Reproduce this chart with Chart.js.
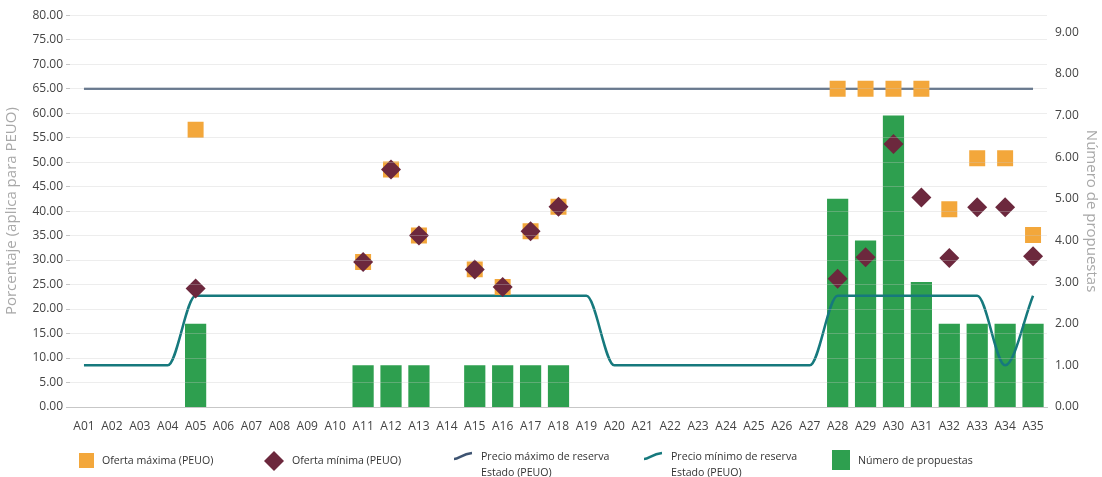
<!DOCTYPE html>
<html>
<head>
<meta charset="utf-8">
<script src="https://cdn.jsdelivr.net/npm/chart.js@4/dist/chart.umd.min.js"></script>
<style>
  html, body { margin: 0; padding: 0; background: #fff; }
  #wrap { position: relative; width: 1102px; height: 477px; }
  #box { position: absolute; left: 0; top: 0; width: 1102px; height: 432px; }
  #legend { position: absolute; left: 0; top: 0; width: 1102px; height: 477px;
            font-family: "Open Sans", "Noto Sans", sans-serif; font-size: 10.6px; color: #333; }
  .item { position: absolute; display: flex; align-items: flex-start; }
  .item span { line-height: 16px; margin-left: 8px; white-space: nowrap; }
</style>
</head>
<body>
<div id="wrap">
  <div id="box"><canvas id="c"></canvas></div>
  <div id="legend"></div>
</div>
<script>
// Categorías del eje X
const categorias = ['A01','A02','A03','A04','A05','A06','A07','A08','A09','A10',
  'A11','A12','A13','A14','A15','A16','A17','A18','A19','A20',
  'A21','A22','A23','A24','A25','A26','A27','A28','A29','A30',
  'A31','A32','A33','A34','A35'];

// Oferta máxima (PEUO), %
const ofertaMaxima = [null, null, null, null, 56.6, null, null, null, null, null,
  29.6, 48.5, 35.0, null, 28.1, 24.5, 35.9, 40.9, null, null,
  null, null, null, null, null, null, null, 65.0, 65.0, 65.0,
  65.0, 40.4, 50.8, 50.8, 35.1];

// Oferta mínima (PEUO), %
const ofertaMinima = [null, null, null, null, 24.2, null, null, null, null, null,
  29.6, 48.5, 35.0, null, 28.1, 24.5, 35.9, 40.9, null, null,
  null, null, null, null, null, null, null, 26.2, 30.6, 53.7,
  42.8, 30.4, 40.8, 40.8, 30.8];

// Precio máximo de reserva Estado (PEUO), %
const reservaMaxima = [65, 65, 65, 65, 65, 65, 65, 65, 65, 65,
  65, 65, 65, 65, 65, 65, 65, 65, 65, 65,
  65, 65, 65, 65, 65, 65, 65, 65, 65, 65,
  65, 65, 65, 65, 65];

// Precio mínimo de reserva Estado (PEUO), %
const reservaMinima = [8.5, 8.5, 8.5, 8.5, 22.7, 22.7, 22.7, 22.7, 22.7, 22.7,
  22.7, 22.7, 22.7, 22.7, 22.7, 22.7, 22.7, 22.7, 22.7, 8.5,
  8.5, 8.5, 8.5, 8.5, 8.5, 8.5, 8.5, 22.7, 22.7, 22.7,
  22.7, 22.7, 22.7, 8.5, 22.7];

// Número de propuestas (eje derecho)
const propuestas = [null, null, null, null, 2, null, null, null, null, null,
  1, 1, 1, null, 1, 1, 1, 1, null, null,
  null, null, null, null, null, null, null, 5, 4, 7,
  3, 2, 2, 2, 2];

// Límites de los ejes
const ejeIzqMax = 80, ejeIzqPaso = 5;
const ejeDerMax = 9.41, ejeDerPaso = 1;

const colores = {
  naranja: '#f3a73b',
  granate: '#6c283d',
  azul: '#3e5472',
  verdeAzul: '#16797d',
  verde: '#2e9f4f'
};

const nombres = ['Oferta máxima (PEUO)', 'Oferta mínima (PEUO)',
  'Precio máximo de reserva Estado (PEUO)', 'Precio mínimo de reserva Estado (PEUO)',
  'Número de propuestas'];

const fuente = '"Open Sans", "Noto Sans", sans-serif';
const fmt = v => Number(v).toFixed(2);

new Chart(document.getElementById('c'), {
  data: {
    labels: categorias,
    datasets: [
      { type: 'line', label: nombres[1], data: ofertaMinima, showLine: false,
        pointStyle: 'rectRot', pointRadius: 10, pointHoverRadius: 10, borderWidth: 0,
        backgroundColor: colores.granate, borderColor: colores.granate, order: 0 },
      { type: 'line', label: nombres[0], data: ofertaMaxima, showLine: false,
        pointStyle: 'rect', pointRadius: 11.3, pointHoverRadius: 11.3, borderWidth: 0,
        backgroundColor: colores.naranja, borderColor: colores.naranja, order: 1 },
      { type: 'line', label: nombres[2], data: reservaMaxima, borderColor: colores.azul,
        borderWidth: 2, pointRadius: 0, fill: false, order: 2 },
      { type: 'line', label: nombres[3], data: reservaMinima, borderColor: colores.verdeAzul,
        borderWidth: 2.5, pointRadius: 0, fill: false, cubicInterpolationMode: 'monotone', order: 3 },
      { type: 'bar', label: nombres[4], data: propuestas, yAxisID: 'y1',
        backgroundColor: colores.verde, barPercentage: 0.76, categoryPercentage: 1, order: 4 }
    ]
  },
  options: {
    responsive: true,
    maintainAspectRatio: false,
    animation: false,
    layout: { padding: { top: 14, left: 0, right: 0, bottom: 0 } },
    plugins: { legend: { display: false }, tooltip: { enabled: false } },
    scales: {
      x: {
        offset: true,
        grid: { display: false },
        border: { display: true, color: '#c8c8c8', width: 1 },
        ticks: { autoSkip: false, maxRotation: 0, padding: 4, color: '#444',
                 font: { family: fuente, size: 12 } },
        afterFit: s => { s.height = 25; }
      },
      y: {
        position: 'left',
        min: 0, max: ejeIzqMax,
        grid: { color: 'rgba(200,200,200,0.32)', z: 1, tickLength: 4, tickColor: '#c4c4c4' },
        border: { display: false },
        ticks: { stepSize: ejeIzqPaso, padding: 3, color: '#444', callback: fmt,
                 font: { family: fuente, size: 12 } },
        title: { display: true, text: 'Porcentaje (aplica para PEUO)', color: '#a8a8a8',
                 padding: { top: 3, bottom: 3 }, font: { family: fuente, size: 15 } },
        afterFit: s => { s.width = 70; }
      },
      y1: {
        position: 'right',
        min: 0, max: ejeDerMax,
        grid: { display: false, drawTicks: false },
        border: { display: false },
        ticks: { stepSize: ejeDerPaso, includeBounds: false, padding: 8, color: '#444',
                 callback: fmt, font: { family: fuente, size: 12 } },
        title: { display: true, text: 'Número de propuestas', color: '#a8a8a8',
                 padding: { top: 2, bottom: 0 }, font: { family: fuente, size: 15 } },
        afterFit: s => { s.width = 55; }
      }
    }
  }
});

// Leyenda inferior
const iconos = [
  '<svg width="15" height="15" style="margin-top:1px"><rect x="0" y="0" width="15" height="15" fill="' + colores.naranja + '"/></svg>',
  '<svg width="20" height="20" style="margin-top:-1px"><polygon points="10,0 20,10 10,20 0,10" fill="' + colores.granate + '"/></svg>',
  '<svg width="20" height="10" style="margin-top:3px"><path d="M1 8 C6 8 9 3 19 2" stroke="' + colores.azul + '" stroke-width="2.5" fill="none"/></svg>',
  '<svg width="20" height="10" style="margin-top:3px"><path d="M1 8 C6 8 9 3 19 2" stroke="' + colores.verdeAzul + '" stroke-width="2.5" fill="none"/></svg>',
  '<svg width="18" height="20" style="margin-top:-2px"><rect x="0" y="0" width="18" height="20" fill="' + colores.verde + '"/></svg>'
];
const textos = ['Oferta máxima (PEUO)', 'Oferta mínima (PEUO)',
  'Precio máximo de reserva<br>Estado (PEUO)', 'Precio mínimo de reserva<br>Estado (PEUO)',
  'Número de propuestas'];
const posX = [79, 264, 453, 643, 832];
const posY = [452, 452, 448, 448, 452];
const leyenda = document.getElementById('legend');
textos.forEach((t, i) => {
  const d = document.createElement('div');
  d.className = 'item';
  d.style.left = posX[i] + 'px';
  d.style.top = posY[i] + 'px';
  d.innerHTML = iconos[i] + '<span>' + t + '</span>';
  leyenda.appendChild(d);
});
</script>
</body>
</html>
